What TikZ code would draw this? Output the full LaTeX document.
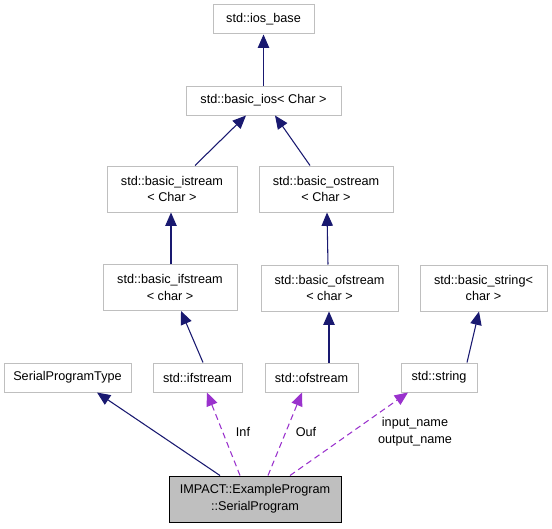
\documentclass[tikz,border=0pt]{standalone}
\usepackage{fontspec}
\setsansfont{Liberation Sans}
\usetikzlibrary{arrows.meta, positioning, calc}
\definecolor{edgeblue}{HTML}{191970}
\definecolor{edgeorchid}{HTML}{9A32CD}
\definecolor{boxgray}{HTML}{BFBFBF}
\tikzset{
    base/.style={draw=boxgray, line width=0.75pt, align=center, font=\fontsize{9.5}{12.5}\selectfont\sffamily, fill=white, inner sep=2pt},
    cls/.style={base, rectangle, minimum height=21.75pt},
    cls2/.style={base, rectangle, minimum height=34.5pt},
    focus/.style={cls2, draw=black, fill=boxgray},
    inherit/.style={-{Triangle[length=10pt, width=8.5pt]}, line width=0.8pt, draw=edgeblue},
    uses/.style={-{Triangle[length=10pt, width=8.5pt]}, line width=0.8pt, draw=edgeorchid, dash pattern=on 4.5pt off 3pt},
    lbl/.style={font=\fontsize{9.5}{12.5}\selectfont\sffamily, align=center, inner sep=0pt}
}
\begin{document}
\begin{tikzpicture}[x=0.75pt, y=-0.75pt]
    \useasboundingbox (0,0) rectangle (552,528);
    \node (iosbase) [cls, minimum width=75.75pt] at (263.5,19.5) {std::ios\_base};
    \node (basicios) [cls, minimum width=116.25pt] at (263.5,100.5) {std::basic\_ios< Char >};
    \node (istream) [cls2, minimum width=97.5pt] at (172,189) {std::basic\_istream\\< Char >};
    \node (ostream) [cls2, minimum width=100.5pt] at (326,189) {std::basic\_ostream\\< Char >};
    \node (bifstream) [cls2, minimum width=100.5pt] at (170,287.5) {std::basic\_ifstream\\< char >};
    \node (bofstream) [cls2, minimum width=102.75pt] at (329.5,288) {std::basic\_ofstream\\< char >};
    \node (bstring) [cls2, minimum width=95.25pt] at (483.5,288) {std::basic\_string<\\char >};
    \node (sptype) [cls, minimum width=95.25pt] at (67.5,377.5) {SerialProgramType};
    \node (ifstream) [cls, minimum width=66.75pt] at (197.5,377.5) {std::ifstream};
    \node (ofstream) [cls, minimum width=69.75pt] at (311.5,377.5) {std::ofstream};
    \node (string) [cls, minimum width=57pt] at (439,377.5) {std::string};
    \node (serial) [focus, minimum width=129pt] at (255,499) {IMPACT::ExampleProgram\\::SerialProgram};

    % inheritance
    \draw [inherit] (basicios) -- (iosbase);
    \draw [inherit] ($(istream.north)+(23,0)$) -- ($(basicios.south)+(-17.5,0)$);
    \draw [inherit] ($(ostream.north)+(-16,0)$) -- ($(basicios.south)+(11.5,0)$);
    \draw [inherit] ($(bifstream.north)+(1,0)$) -- ($(istream.south)+(-1,0)$);
    \draw [inherit] ($(bofstream.north)+(-1.5,0)$) -- ($(ostream.south)+(1,0)$);
    \draw [inherit] ($(ifstream.north)+(5.5,0)$) -- ($(bifstream.south)+(11,0)$);
    \draw [inherit] ($(ofstream.north)+(17.5,0)$) -- ($(bofstream.south)+(-0.5,0)$);
    \draw [inherit] ($(string.north)+(28,0)$) -- ($(bstring.south)+(-4.5,0)$);
    \draw [inherit] ($(serial.north)+(-35,0)$) -- ($(sptype.south)+(29.5,0)$);

    % usage
    \draw [uses] ($(serial.north)+(-15,0)$) -- ($(ifstream.south)+(9.5,0)$);
    \draw [uses] ($(serial.north)+(13,0)$) -- ($(ofstream.south)+(-9.5,0)$);
    \draw [uses] ($(serial.north)+(35,0)$) -- ($(string.south)+(-31,0)$);
    \node (inf) [lbl] at (243,432) {Inf};
    \node (ouf) [lbl] at (306,432) {Ouf};
    \node (names) [lbl] at (415,432) {input\_name\\output\_name};
\end{tikzpicture}
\end{document}
